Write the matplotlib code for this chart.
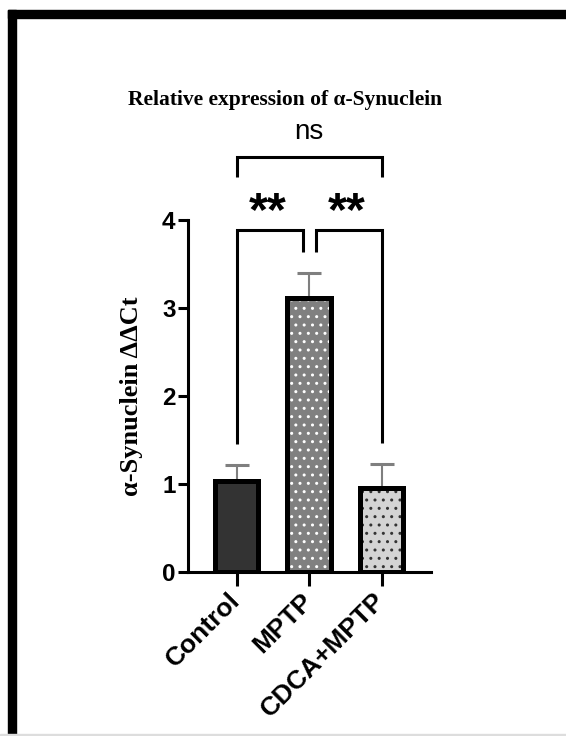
import numpy as np
import matplotlib.pyplot as plt
from matplotlib.patches import Rectangle

groups = ["Control", "MPTP", "CDCA+MPTP"]
means = [1.03, 3.11, 0.96]
sems = [0.19, 0.29, 0.27]
fills = ["#333333", "#808080", "#d4d4d4"]
dot_colors = [None, "#ffffff", "#333333"]
y_ticks = [0, 1, 2, 3, 4]
title = "Relative expression of α-Synuclein"
ylabel = "α-Synuclein ΔΔCt"

# significance brackets: x span, bar height, leg bottoms, label
br_x = [(0, 0.91), (1.09, 2), (0, 2)]
br_y = [3.89, 3.89, 4.72]
br_legs = [(1.45, 3.64), (3.64, 1.47), (4.49, 4.49)]
br_text = ["**", "**", "ns"]

plt.rcParams['font.family'] = ['Liberation Sans', 'DejaVu Sans']

fig = plt.figure(figsize=(5.66, 7.36), dpi=100)
ax = fig.add_axes([188/566, 164/736, 243/566, 352/736])

x = np.arange(len(groups))
w = 0.6

# error bars (upper only), drawn under bars
ax.errorbar(x, means, yerr=[np.zeros(len(sems)), sems], fmt='none',
            ecolor="#7f7f7f", elinewidth=1.5, capsize=8.5, capthick=2.2,
            zorder=1)

ax.bar(x, means, w, color=fills, edgecolor='none', zorder=2)
for i in range(len(groups)):
    if dot_colors[i] is not None:
        ax.bar(x[i], means[i], w, facecolor='none', edgecolor=dot_colors[i],
               linewidth=0, hatch='..', zorder=3)
ax.bar(x, means, w, facecolor='none', edgecolor='black', linewidth=3.6,
       zorder=4)

ax.set_xlim(-0.67, 2.68)
ax.set_ylim(0, 4)
ax.set_yticks(y_ticks)
ax.set_xticks(x)
ax.set_xticklabels(groups, rotation=45, ha='right', va='center',
                   rotation_mode='anchor')
for lab in ax.get_xticklabels():
    lab.set_fontweight('bold')
    lab.set_fontsize(19)
for lab in ax.get_yticklabels():
    lab.set_fontweight('bold')
    lab.set_fontsize(17.5)

for s in ['top', 'right']:
    ax.spines[s].set_visible(False)
for s in ['left', 'bottom']:
    ax.spines[s].set_linewidth(2.2)
ax.tick_params(axis='y', length=7, width=2.2, pad=2)
ax.tick_params(axis='x', length=10, width=2.2, pad=8)

ax.set_ylabel(ylabel, family='Liberation Serif', fontweight='bold',
              fontsize=19, labelpad=14)

for (x0, x1), yb, (l0, l1), txt in zip(br_x, br_y, br_legs, br_text):
    ax.plot([x0, x0, x1, x1], [l0, yb, yb, l1], color='black', lw=2.2,
            clip_on=False, solid_capstyle='butt', solid_joinstyle='miter')
    xm = (x0 + x1) / 2
    if txt == "ns":
        ax.text(xm, 4.92, txt, ha='center', va='baseline', fontsize=20,
                clip_on=False)
    else:
        ax.text(xm - 0.03, 3.94, txt, ha='center', va='baseline',
                fontsize=35, fontweight='bold', clip_on=False)

fig.text(285/566, 1 - 100/736, title, family='Liberation Serif',
         fontweight='bold', fontsize=15.5, ha='center', va='center')

# page frame
fig.patches.append(Rectangle((8/566, 0), 8/566, 1 - 10/736,
                             transform=fig.transFigure, color='black'))
fig.patches.append(Rectangle((8/566, 1 - 18/736), 1, 8/736,
                             transform=fig.transFigure, color='black'))
fig.patches.append(Rectangle((0, 0), 1, 2/736,
                             transform=fig.transFigure, color='#dddddd'))

fig.savefig("out.png", dpi=100)
